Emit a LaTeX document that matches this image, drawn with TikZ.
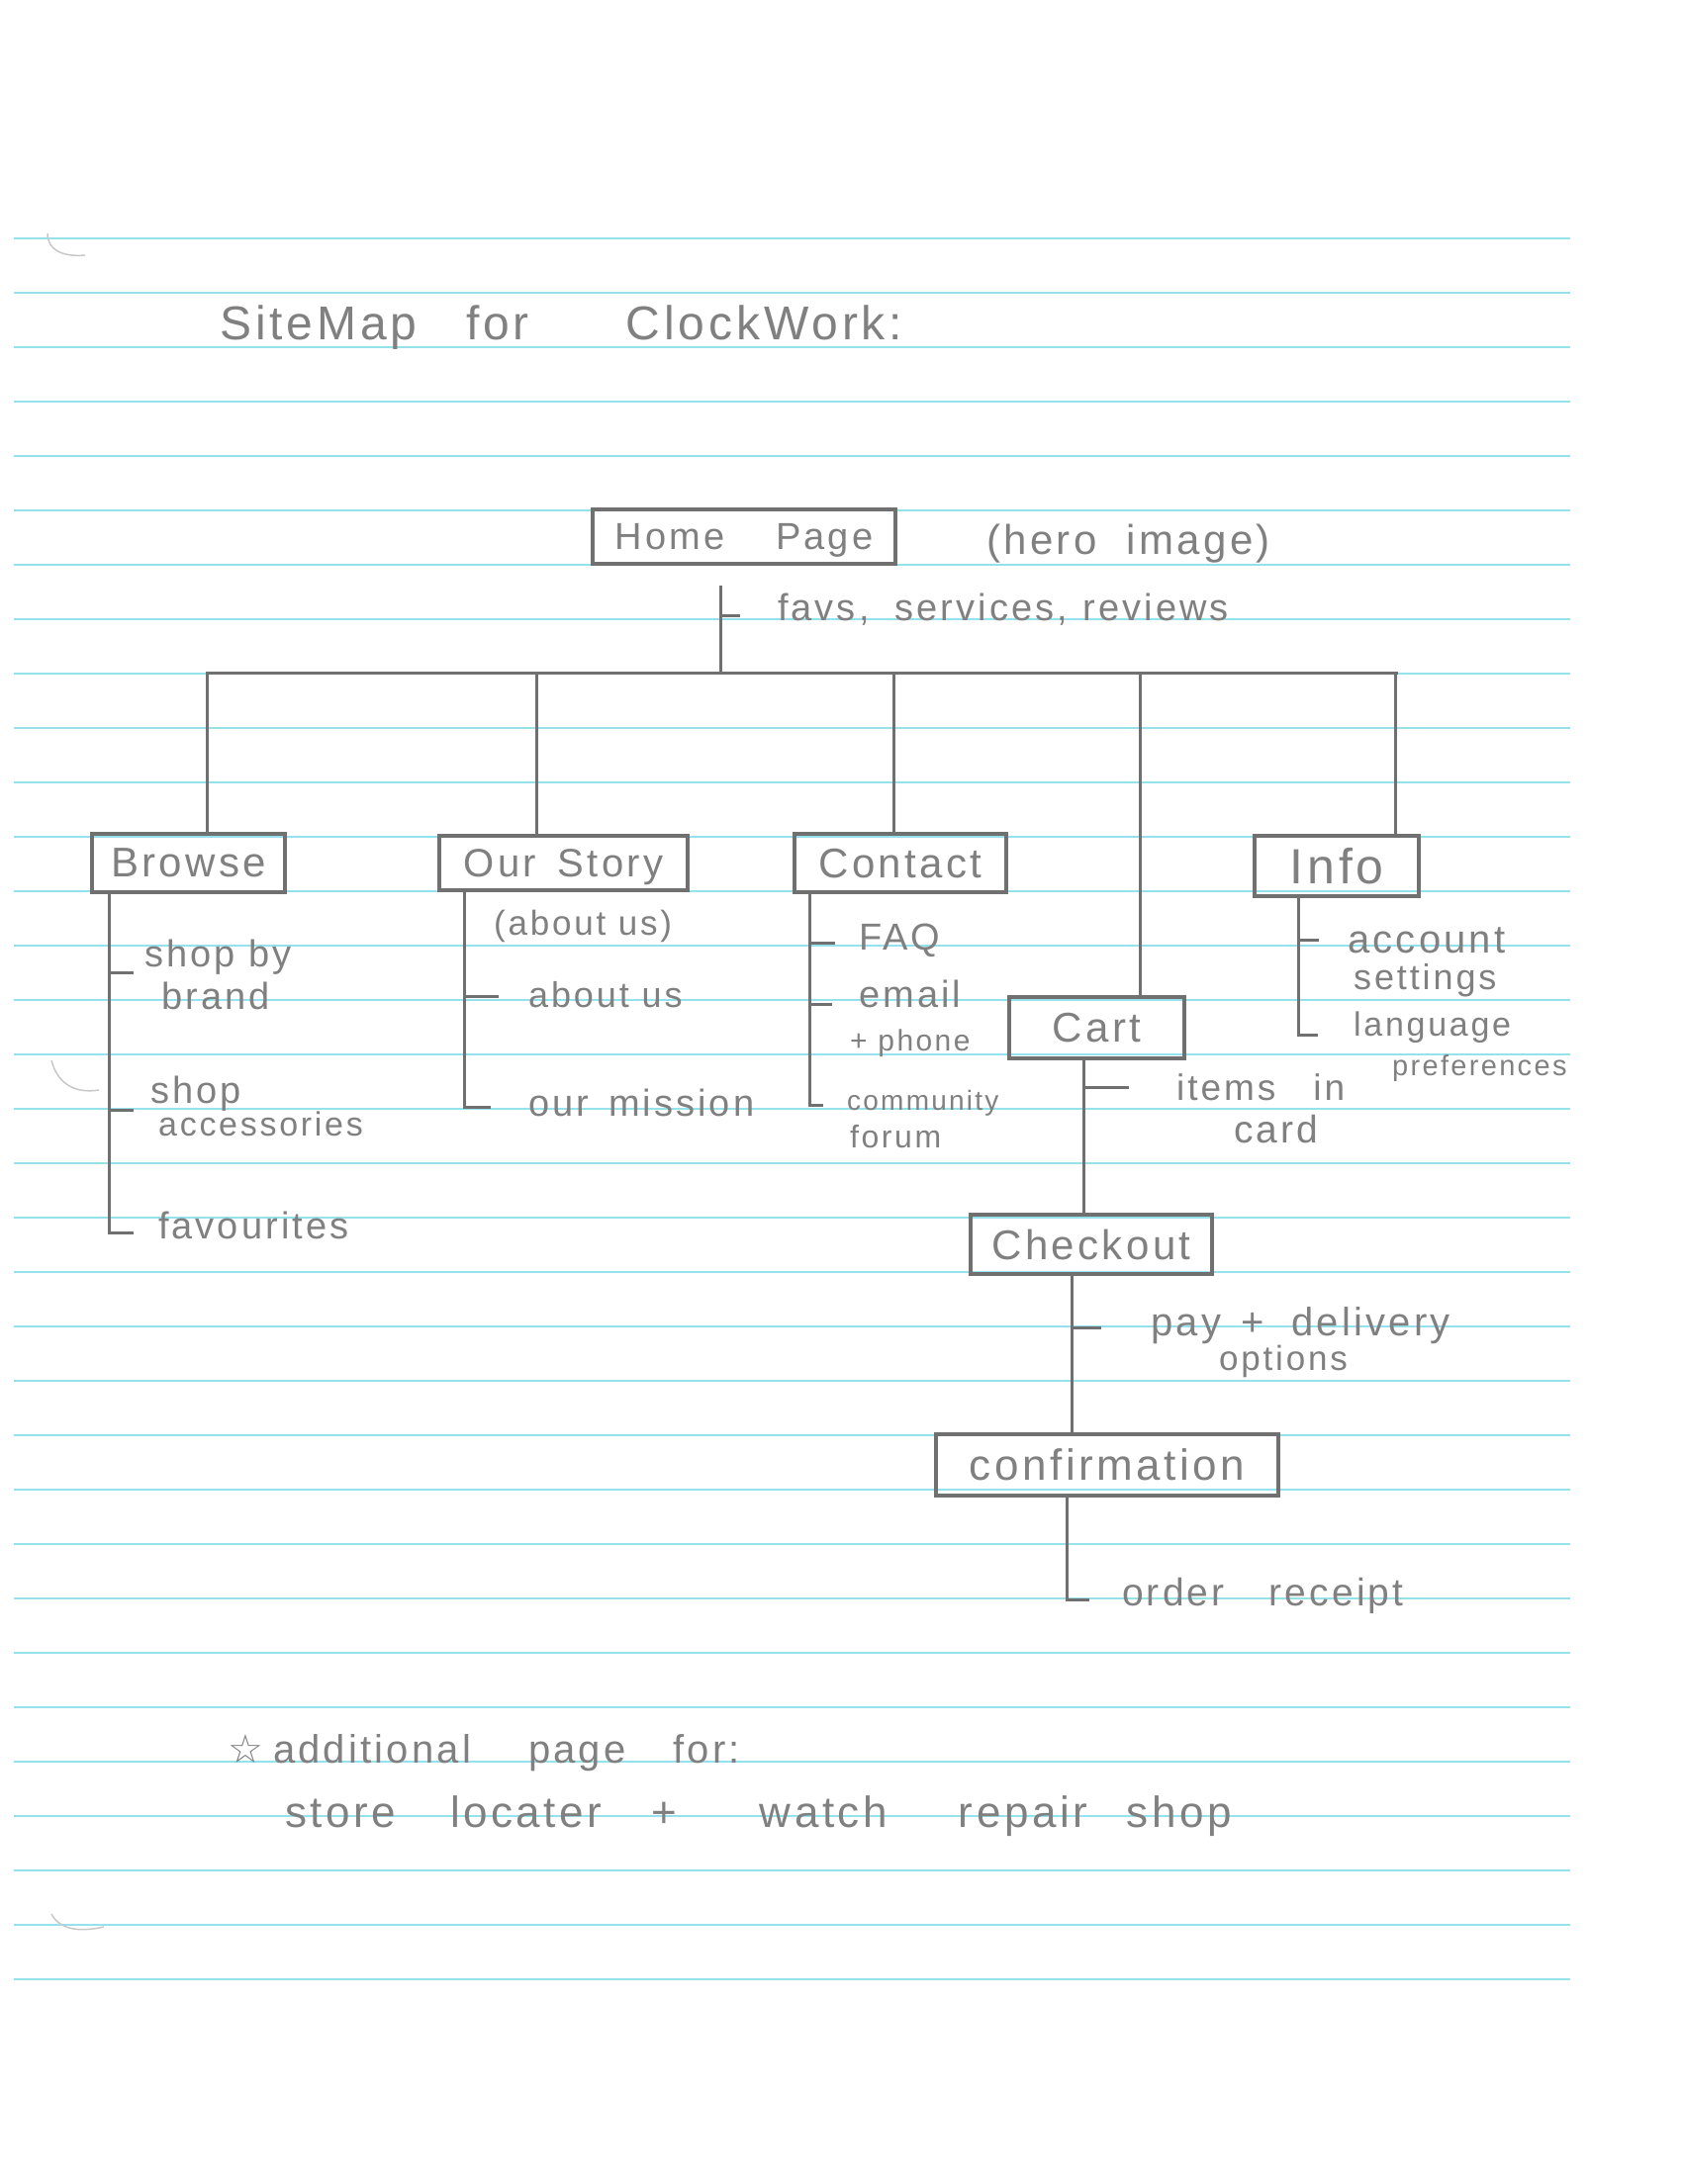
\documentclass[tikz,border=0pt]{standalone}
\usepackage{fontspec}
\setmainfont{Liberation Sans}
\newfontfamily\hand[LetterSpace=8]{Liberation Sans}
\newfontfamily\starfont{DejaVu Sans}
\definecolor{rulecol}{RGB}{150,226,236}
\definecolor{pencil}{RGB}{128,128,128}
\definecolor{lead}{RGB}{112,112,112}
\definecolor{holecol}{RGB}{200,200,200}
\begin{document}
\begin{tikzpicture}[x=1pt,y=-1pt,
  sz/.style={font=\hand\fontsize{#1}{#1}\selectfont},
  txt/.style={anchor=base west, inner sep=0pt, text=pencil, sz=38},
  pagebox/.style={draw=lead, line width=3.5pt, inner sep=0pt, text depth=0pt, text=pencil, sz=42},
  wire/.style={draw=lead, line width=3pt},
  ruled/.style={draw=rulecol, line width=2pt},
  holemark/.style={draw=holecol, line width=1.5pt}]
\useasboundingbox[fill=white] (0,0) rectangle (1700,2208);
% ruled paper
\foreach \k in {0,...,32} \draw[ruled] (14,{240.5+55*\k}) -- (1587,{240.5+55*\k});
% punch-hole marks
\draw[holemark] (48,236) .. controls (48,252) and (62,260) .. (86,258);
\draw[holemark] (52,1072) .. controls (58,1095) and (75,1106) .. (100,1102);
\draw[holemark] (52,1935) .. controls (60,1950) and (78,1954) .. (105,1948);

% title
\node[txt, sz=48] (title) at (222,343) {SiteMap\hspace{50pt}for\hspace{98pt}ClockWork:};

% home
\node[pagebox, sz=38, minimum width=306pt, minimum height=55pt] (home) at (752,542.5) {Home\hspace{52pt}Page};
\node[txt, sz=42] (hero) at (997,560) {(hero\hspace{30pt}image)};
\node[txt] (favs) at (786,627) {favs,\hspace{26pt}services,\hspace{16pt}reviews};

% boxes
\node[pagebox, minimum width=195pt, minimum height=59pt] (browse) at (190.5,872.5) {Browse};
\node[pagebox, sz=40, minimum width=251pt, minimum height=55pt] (story) at (569.5,872.5) {Our\hspace{22pt}Story};
\node[pagebox, minimum width=214pt, minimum height=59pt] (contact) at (910,872.5) {Contact};
\node[pagebox, minimum width=177pt, minimum height=62pt] (cart) at (1108.5,1039) {Cart};
\node[pagebox, sz=50, minimum width=166pt, minimum height=61pt] (info) at (1351,875.5) {Info};
\node[pagebox, minimum width=244pt, minimum height=60pt] (checkout) at (1103,1258) {Checkout};
\node[pagebox, sz=44, minimum width=346pt, minimum height=62pt] (confirm) at (1119,1481) {confirmation};

% home spine and bus
\coordinate (hsTop) at (728,592);
\coordinate (hsBus) at (728,680);
\coordinate (favTick) at (728,622);
\draw[wire] (hsTop) -- (hsBus);
\draw[wire] (favTick) -- ++(20,0);
\coordinate (busL) at (208,680);
\coordinate (busR) at (1413,680);
\draw[wire] (busL) -- (busR);
\coordinate (d1) at (209,680);
\coordinate (d2) at (542,680);
\coordinate (d3) at (903,680);
\coordinate (d4) at (1152,680);
\coordinate (d5) at (1410,680);
\draw[wire] (d1) -- (d1 |- browse.north);
\draw[wire] (d2) -- (d2 |- story.north);
\draw[wire] (d3) -- (d3 |- contact.north);
\draw[wire] (d4) -- (d4 |- cart.north);
\draw[wire] (d5) -- (d5 |- info.north);

% browse subtree
\node[txt] (b1a) at (146,977) {shop by};
\node[txt] (b1b) at (163,1020) {brand};
\node[txt] (b2a) at (152,1115) {shop};
\node[txt, sz=34] (b2b) at (160,1148) {accessories};
\node[txt] (b3) at (160,1252) {favourites};
\draw[wire] (browse.south -| 110,0) -- (110,1246) -- ++(25,0)
  (110,983) -- ++(25,0) (110,1122) -- ++(25,0);

% story subtree
\node[txt, sz=35] (s0) at (499,945) {(about us)};
\node[txt, sz=36] (s1) at (534,1018) {about us};
\node[txt] (s2) at (534,1128) {our\hspace{20pt}mission};
\draw[wire] (story.south -| 469,0) -- (469,1119) -- ++(27,0)
  (469,1007) -- ++(35,0);

% contact subtree
\node[txt] (c1) at (868,960) {FAQ};
\node[txt] (c2a) at (868,1018) {email};
\node[txt, sz=30] (c2b) at (859,1062) {+ phone};
\node[txt, sz=28] (c3a) at (856,1122) {community};
\node[txt, sz=32] (c3b) at (859,1160) {forum};
\draw[wire] (contact.south -| 818,0) -- (818,1117) -- ++(14,0)
  (818,953) -- ++(26,0) (818,1015) -- ++(23,0);

% cart subtree
\node[txt, sz=37] (k1a) at (1189,1112) {items\hspace{38pt}in};
\node[txt, sz=39] (k1b) at (1247,1155) {card};
\draw[wire] (cart.south -| 1095,0) -- (checkout.north -| 1095,0)
  (1095,1099) -- ++(46,0);

% info subtree
\node[txt, sz=40] (i1a) at (1362,963) {account};
\node[txt, sz=36] (i1b) at (1368,1000) {settings};
\node[txt, sz=34] (i2a) at (1368,1047) {language};
\node[txt, sz=29] (i2b) at (1407,1087) {preferences};
\draw[wire] (info.south -| 1312,0) -- (1312,1046) -- ++(20,0)
  (1312,950) -- ++(21,0);

% checkout subtree
\node[txt, sz=40] (o1a) at (1163,1350) {pay\hspace{20pt}+\hspace{28pt}delivery};
\node[txt, sz=35] (o1b) at (1232,1385) {options};
\draw[wire] (checkout.south -| 1083,0) -- (confirm.north -| 1083,0)
  (1083,1342) -- ++(30,0);

% confirmation subtree
\node[txt, sz=39] (r1) at (1134,1623) {order\hspace{45pt}receipt};
\draw[wire] (confirm.south -| 1078,0) -- (1078,1617) -- ++(23,0);

% note
\node[txt, sz=40] (note1) at (230,1782) {{\starfont\fontsize{40}{40}\selectfont ☆}\hspace{10pt}additional\hspace{58pt}page\hspace{48pt}for:};
\node[txt, sz=44] (note2) at (288,1847) {store\hspace{55pt}locater\hspace{50pt}+\hspace{84pt}watch\hspace{72pt}repair\hspace{40pt}shop};
\end{tikzpicture}
\end{document}
